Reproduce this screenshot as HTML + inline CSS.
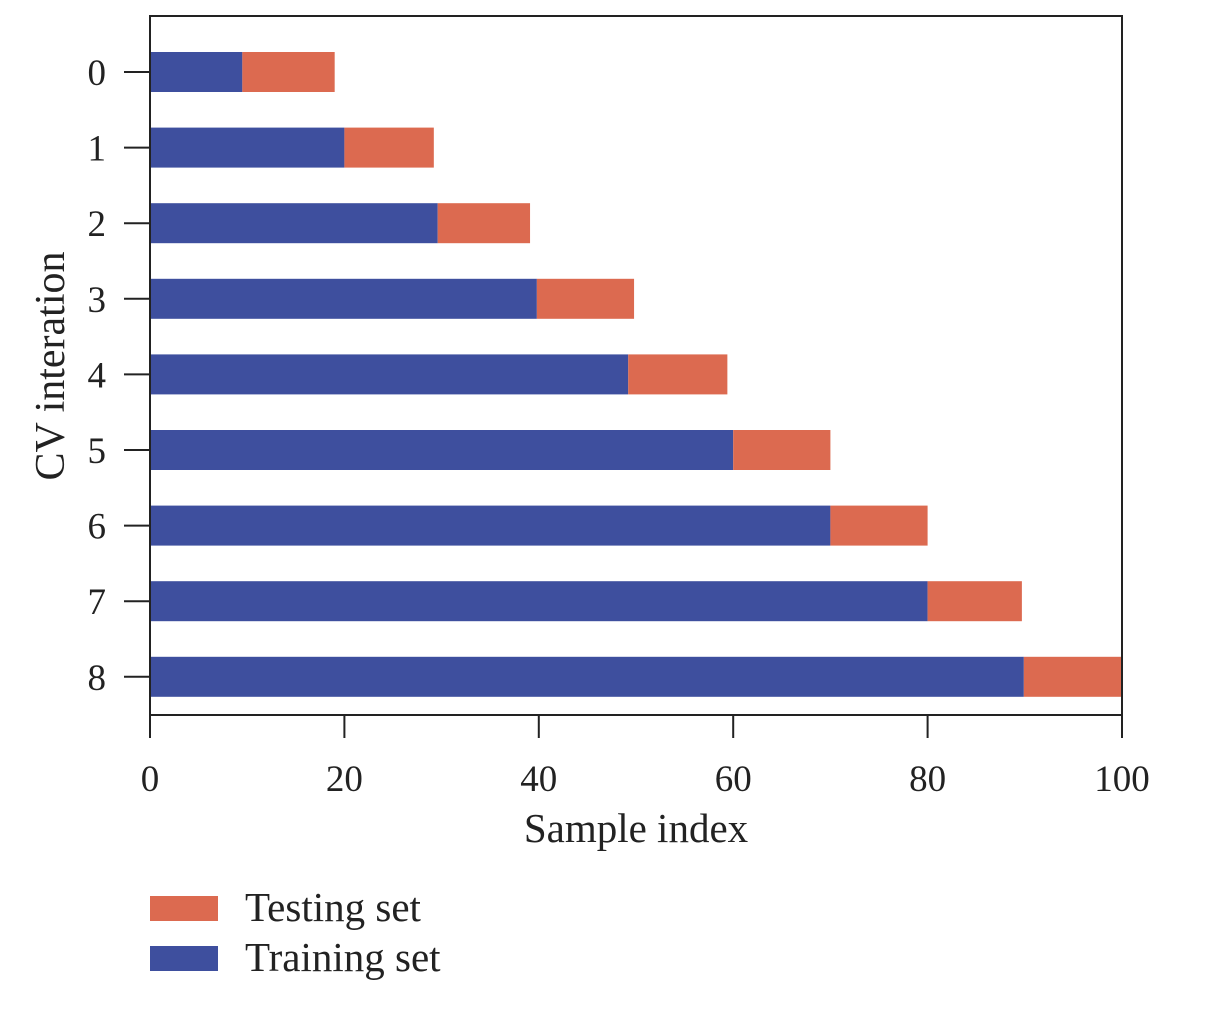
<!DOCTYPE html>
<html><head><meta charset="utf-8"><style>
html,body{margin:0;padding:0;background:#fff;}
svg{display:block;font-family:"Liberation Serif","DejaVu Serif",serif;}
</style></head><body>
<svg id="chart" width="1218" height="1020" viewBox="0 0 1218 1020">
<g id="bars"></g>
<rect x="150" y="16" width="972" height="699" fill="none" stroke="#222" stroke-width="2"/>
<g id="axes"></g>
<text x="636" y="842" font-size="41" text-anchor="middle" fill="#222">Sample index</text>
<text transform="translate(64,366) rotate(-90)" font-size="42" text-anchor="middle" fill="#222">CV interation</text>
<g>
<rect x="150" y="896" width="68" height="25" fill="#dc6a50"/>
<text x="245" y="921" font-size="41" fill="#222">Testing set</text>
<rect x="150" y="946" width="68" height="25" fill="#3e4f9e"/>
<text x="245" y="971" font-size="41" fill="#222">Training set</text>
</g>
</svg>
<script>
const iterations = [0,1,2,3,4,5,6,7,8];
const trainEnd = [9.5,20,29.6,39.8,49.2,60,70,80,89.9];
const testEnd = [19,29.2,39.1,49.8,59.4,70,80,89.7,100];
const xTicks = [0,20,40,60,80,100];
const NS='http://www.w3.org/2000/svg';
const x = v => 150 + v*9.72;
const y = i => 72 + i*75.6;
const bh = 40;
const bars=document.getElementById('bars'), axes=document.getElementById('axes');
function mk(tag,attrs,parent){const e=document.createElementNS(NS,tag);for(const k in attrs)e.setAttribute(k,attrs[k]);parent.appendChild(e);return e;}
iterations.forEach((it,i)=>{
  let r=mk('rect',{x:x(0),y:y(i)-bh/2,width:x(trainEnd[i])-x(0),height:bh,fill:'#3e4f9e'},bars);
  
  
  let t=mk('rect',{x:x(trainEnd[i]),y:y(i)-bh/2,width:x(testEnd[i])-x(trainEnd[i]),height:bh,fill:'#dc6a50'},bars);
  
  
  let tk=mk('line',{x1:124,x2:150,y1:y(i),y2:y(i),stroke:'#222','stroke-width':2},axes);
  
  
  let lb=mk('text',{x:106,y:y(i)+13,'font-size':37,'text-anchor':'end',fill:'#222'},axes);
  lb.textContent=it;
  
  
});
xTicks.forEach(v=>{
  let tk=mk('line',{x1:x(v),x2:x(v),y1:715,y2:738,stroke:'#222','stroke-width':2},axes);
  
  
  let lb=mk('text',{x:x(v),y:791,'font-size':37,'text-anchor':'middle',fill:'#222'},axes);
  lb.textContent=v;
  
  
});
</script>
</body></html>
